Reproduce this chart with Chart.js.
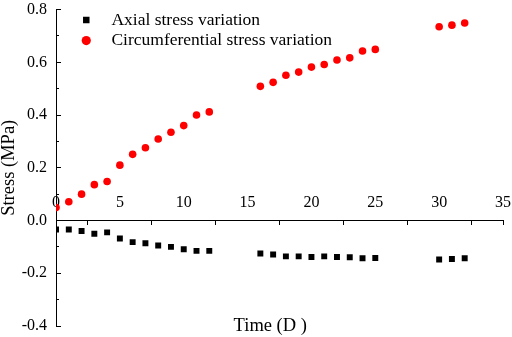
<!DOCTYPE html>
<html lang="en">
  <head>
    <meta charset="UTF-8" />
    <title>Stress vs time</title>
    <script src="https://cdn.jsdelivr.net/npm/chart.js"></script>
    <style>
      html, body { margin: 0; padding: 0; background: #fff; }
      #wrap { width: 512px; height: 337px; }
    </style>
  </head>
  <body>
    <div id="wrap"><canvas id="stress-chart"></canvas></div>

    <script>
      // days
      const days = [0, 1, 2, 3, 4, 5, 6, 7, 8, 9, 10, 11, 12, 16, 17, 18, 19, 20, 21, 22, 23, 24, 25, 30, 31, 32];

      // stress (MPa)
      const axialStress = [
        -0.034, -0.034, -0.040, -0.050, -0.045, -0.068, -0.082, -0.086, -0.095, -0.100, -0.109, -0.115, -0.115,
        -0.125, -0.129, -0.136, -0.136, -0.138, -0.136, -0.138, -0.139, -0.143, -0.142,
        -0.148, -0.146, -0.143,
      ];
      const circumStress = [
        0.049, 0.071, 0.100, 0.136, 0.148, 0.210, 0.251, 0.276, 0.309, 0.335, 0.360, 0.400, 0.412,
        0.509, 0.524, 0.551, 0.563, 0.582, 0.592, 0.609, 0.617, 0.643, 0.649,
        0.735, 0.741, 0.749,
      ];

      const seriesNames = ["Axial stress variation", "Circumferential stress variation"];
      const xRange = [0, 35];
      const yRange = [-0.4, 0.8];

      const serif = "'Liberation Serif', 'Times New Roman', serif";

      const toPoints = (ys) => days.map((d, i) => ({ x: d, y: ys[i] }));

      // put the legend at the upper left inside the plot
      const legendShift = {
        id: "legendShift",
        beforeDraw(chart) {
          chart.legend.left = chart.chartArea.left + 24;
          chart.legend.top = chart.chartArea.top - 1.3;
        },
      };

      // inward tick marks on the y axis (no labels)
      const innerTicks = (step, len) => ({
        type: "linear",
        position: { x: 0 },
        min: yRange[0],
        max: yRange[1],
        border: { display: false },
        grid: { drawOnChartArea: false, drawTicks: true, tickLength: len, tickColor: "#000" },
        ticks: { display: false, stepSize: step, autoSkip: false },
      });

      new Chart(document.getElementById("stress-chart"), {
        type: "scatter",
        data: {
          datasets: [
            {
              label: "   " + seriesNames[0],
              data: toPoints(axialStress),
              pointStyle: "rect",
              pointRadius: 4.2,
              pointHoverRadius: 4.2,
              borderWidth: 0,
              backgroundColor: "#000000",
              borderColor: "#000000",
            },
            {
              label: "   " + seriesNames[1],
              data: toPoints(circumStress),
              pointStyle: "circle",
              pointRadius: 3.8,
              pointHoverRadius: 3.8,
              borderWidth: 0,
              backgroundColor: "#ff0000",
              borderColor: "#ff0000",
            },
          ],
        },
        options: {
          responsive: true,
          maintainAspectRatio: false,
          animation: false,
          layout: { padding: { top: 9, right: 9, bottom: 0, left: 0 } },
          plugins: {
            tooltip: { enabled: false },
            legend: {
              position: "chartArea",
              align: "start",
              labels: {
                usePointStyle: true,
                boxWidth: 6.5,
                boxHeight: 6.5,
                padding: 3,
                color: "#000",
                font: { family: serif, size: 17.5 },
              },
            },
          },
          scales: {
            x: {
              type: "linear",
              position: { y: 0 },
              min: xRange[0],
              max: xRange[1],
              border: { display: true, color: "#000", width: 1 },
              grid: {
                drawOnChartArea: false,
                drawTicks: true,
                tickLength: 4,
                tickColor: (ctx) =>
                  ctx.tick && ctx.tick.value % 5 === 0 && ctx.tick.value < xRange[1] ? "rgba(0,0,0,0)" : "#000",
              },
              ticks: {
                stepSize: 2.5,
                autoSkip: false,
                maxRotation: 0,
                padding: -30,
                color: "#000",
                font: { family: serif, size: 16, lineHeight: 1 },
                callback: (v) => (v % 5 === 0 ? String(v) : ""),
              },
            },
            xb: {
              type: "linear",
              position: "bottom",
              min: xRange[0],
              max: xRange[1],
              border: { display: false },
              grid: { display: false, drawTicks: false },
              ticks: { display: false },
              title: {
                display: true,
                text: "Time (D )    ",
                color: "#000",
                font: { family: serif, size: 18.5, lineHeight: 1 },
                padding: { top: -9.25, bottom: 1.75 },
              },
            },
            y: {
              type: "linear",
              min: yRange[0],
              max: yRange[1],
              border: { display: true, color: "#000", width: 1 },
              grid: {
                drawOnChartArea: false,
                drawTicks: true,
                tickLength: 9,
                tickColor: "rgba(0,0,0,0)",
              },
              ticks: {
                stepSize: 0.2,
                autoSkip: false,
                padding: 0,
                color: "#000",
                font: { family: serif, size: 16 },
                callback: (v) => (Math.round(v * 10) / 10).toFixed(1),
              },
              title: {
                display: true,
                text: "Stress (MPa)",
                color: "#000",
                font: { family: serif, size: 18.5, lineHeight: 1 },
                padding: { top: 0, bottom: 3.2 },
              },
            },
            yMajor: innerTicks(0.2, -5),
            yMinor: innerTicks(0.1, -3),
          },
        },
        plugins: [legendShift],
      });
    </script>
  </body>
</html>
